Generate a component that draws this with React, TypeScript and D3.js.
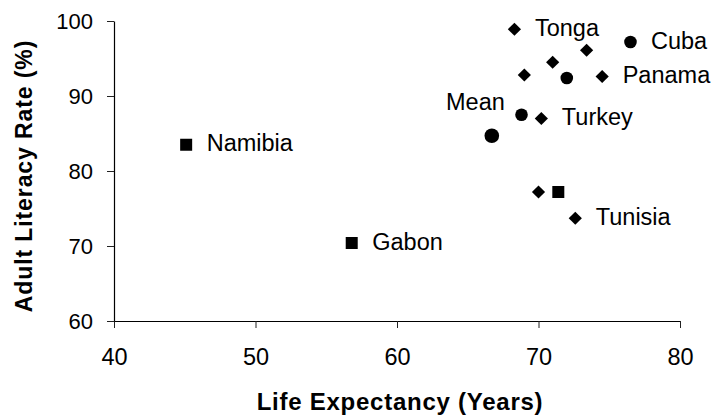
import React, { useEffect, useRef } from 'react';
import * as d3 from 'd3';

// Values
const xTicks = [40, 50, 60, 70, 80];
const yTicks = [60, 70, 80, 90, 100];

const diamondX = [68.3, 73.4, 71.0, 69.0, 74.5, 70.2, 70.0, 72.6];
const diamondY = [98.9, 96.1, 94.5, 92.8, 92.6, 87.0, 77.2, 73.7];
const diamondLabels = ['Tonga', '', '', '', 'Panama', 'Turkey', '', 'Tunisia'];

const circleX = [76.5, 72.0, 68.8];
const circleY = [97.2, 92.4, 87.5];
const circleLabels = ['Cuba', '', ''];

const squareX = [45.1, 56.8, 71.4];
const squareY = [83.5, 70.4, 77.2];
const squareLabels = ['Namibia', 'Gabon', ''];

const meanX = [66.7];
const meanY = [84.7];
const meanLabels = ['Mean'];

const FONT = '"Liberation Sans", Arial, Helvetica, sans-serif';

const App = () => {
  const svgRef = useRef<SVGSVGElement>(null);

  useEffect(() => {
    const svg = d3.select(svgRef.current);
    svg.selectAll('*').remove();

    const width = 714;
    const height = 415;
    svg.attr('width', width).attr('height', height);

    const x = d3.scaleLinear().domain([40, 80]).range([114, 680]);
    const y = d3.scaleLinear().domain([60, 100]).range([321, 21]);

    // x axis
    const gx = svg.append('g')
      .attr('transform', `translate(0,${y(60)})`)
      .call(d3.axisBottom(x).tickValues(xTicks).tickSize(7).tickSizeOuter(0).tickPadding(20));
    gx.selectAll('text')
      .style('font-family', FONT)
      .style('font-size', '23.5px')
      .attr('fill', '#000');

    // y axis
    const gy = svg.append('g')
      .attr('transform', `translate(${x(40)},0)`)
      .call(d3.axisLeft(y).tickValues(yTicks).tickSize(7).tickSizeOuter(0).tickPadding(14));
    gy.selectAll('text')
      .style('font-family', FONT)
      .style('font-size', '22px')
      .attr('fill', '#000');

    svg.selectAll('.domain')
      .attr('stroke', '#000')
      .attr('stroke-width', 1.2);
    svg.selectAll('.tick line')
      .attr('stroke', '#222')
      .attr('stroke-width', 1);

    // axis titles
    svg.append('text')
      .attr('x', (x(40) + x(80)) / 2 + 3)
      .attr('y', 410)
      .attr('text-anchor', 'middle')
      .style('font-family', FONT)
      .style('font-weight', 'bold')
      .style('font-size', '24px')
      .style('letter-spacing', '0.75px')
      .text('Life Expectancy (Years)');

    svg.append('text')
      .attr('transform', `translate(32,${(y(60) + y(100)) / 2 + 5}) rotate(-90)`)
      .attr('text-anchor', 'middle')
      .style('font-family', FONT)
      .style('font-weight', 'bold')
      .style('font-size', '23px')
      .style('letter-spacing', '0.9px')
      .text('Adult Literacy Rate (%)');

    const plot = svg.append('g');

    // diamonds
    const dd = 6.6;
    plot.selectAll('.diamond')
      .data(diamondX.map((v, i) => ({ x: v, y: diamondY[i] })))
      .enter().append('path')
      .attr('class', 'diamond')
      .attr('d', d => {
        const cx = x(d.x);
        const cy = y(d.y);
        return `M${cx},${cy - dd}L${cx + dd},${cy}L${cx},${cy + dd}L${cx - dd},${cy}Z`;
      })
      .attr('fill', '#000');

    // circles
    plot.selectAll('.circle')
      .data(circleX.map((v, i) => ({ x: v, y: circleY[i] })))
      .enter().append('circle')
      .attr('class', 'circle')
      .attr('cx', d => x(d.x))
      .attr('cy', d => y(d.y))
      .attr('r', 6.3)
      .attr('fill', '#000');

    // mean (larger circle)
    plot.selectAll('.mean')
      .data(meanX.map((v, i) => ({ x: v, y: meanY[i] })))
      .enter().append('circle')
      .attr('class', 'mean')
      .attr('cx', d => x(d.x))
      .attr('cy', d => y(d.y))
      .attr('r', 7.3)
      .attr('fill', '#000');

    // squares
    const sq = 12;
    plot.selectAll('.square')
      .data(squareX.map((v, i) => ({ x: v, y: squareY[i] })))
      .enter().append('rect')
      .attr('class', 'square')
      .attr('x', d => x(d.x) - sq / 2)
      .attr('y', d => y(d.y) - sq / 2)
      .attr('width', sq)
      .attr('height', sq)
      .attr('fill', '#000');

    // point labels to the right of the marker
    const rightLabels = [
      ...diamondX.map((v, i) => ({ x: v, y: diamondY[i], label: diamondLabels[i] })),
      ...circleX.map((v, i) => ({ x: v, y: circleY[i], label: circleLabels[i] })),
      ...squareX.map((v, i) => ({ x: v, y: squareY[i], label: squareLabels[i] }))
    ].filter(d => d.label);

    plot.selectAll('.lbl')
      .data(rightLabels)
      .enter().append('text')
      .attr('class', 'lbl')
      .attr('x', d => x(d.x) + 20.5)
      .attr('y', d => y(d.y) + 6.5)
      .style('font-family', FONT)
      .style('font-size', '23.5px')
      .text(d => d.label);

    // mean label sits up and to the left
    plot.selectAll('.meanlbl')
      .data(meanX.map((v, i) => ({ x: v, y: meanY[i], label: meanLabels[i] })))
      .enter().append('text')
      .attr('class', 'meanlbl')
      .attr('x', d => x(d.x) + 13)
      .attr('y', d => y(d.y) - 26)
      .attr('text-anchor', 'end')
      .style('font-family', FONT)
      .style('font-size', '23.5px')
      .text(d => d.label);
  }, []);

  return (
    <div style={{ position: 'absolute', left: 0, top: 0, background: '#fff' }}>
      <svg ref={svgRef} style={{ display: 'block' }}></svg>
    </div>
  );
};

export default App;
